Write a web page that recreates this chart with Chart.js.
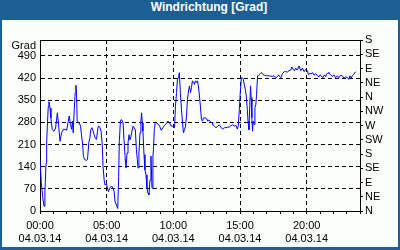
<!DOCTYPE html>
<html>
<head>
<meta charset="utf-8">
<script src="https://cdn.jsdelivr.net/npm/chart.js@4/dist/chart.umd.min.js"></script>
<style>
  html, body { margin: 0; padding: 0; }
  #frame { position: relative; width: 400px; height: 250px; background: #1e5f93; overflow: hidden; }
  #title { position: absolute; left: 0; top: 0; width: 400px; height: 20px; line-height: 20px;
           text-align: center; color: #fff; font: bold 12px "Liberation Sans", Arial, sans-serif; padding-left: 18px; box-sizing: border-box; }
  #inner { position: absolute; left: 2px; top: 20px; width: 396px; height: 227px; background: #fcfefc; }
  #c { position: absolute; left: 0; top: 0; }
</style>
</head>
<body>
<div id="frame">
  <div id="title">Windrichtung [Grad]</div>
  <div id="inner"></div>
  <canvas id="c" width="400" height="250"></canvas>
</div>
<script>
'use strict';

const hours = [
  0.00, 0.10, 0.20, 0.30, 0.37, 0.45, 0.50, 0.55, 0.62, 0.67, 0.75, 0.82, 0.92, 1.05, 1.17, 1.30, 1.37, 1.50, 1.62, 1.75,
  1.87, 2.00, 2.12, 2.19, 2.29, 2.37, 2.44, 2.49, 2.57, 2.64, 2.69, 2.74, 2.79, 2.94, 3.04, 3.11, 3.19, 3.26, 3.36, 3.49,
  3.56, 3.66, 3.74, 3.81, 3.89, 3.99, 4.06, 4.14, 4.24, 4.31, 4.38, 4.48, 4.58, 4.66, 4.73, 4.81, 4.88, 4.98, 5.06, 5.13,
  5.23, 5.36, 5.48, 5.56, 5.63, 5.73, 5.83, 5.90, 5.95, 6.03, 6.10, 6.18, 6.23, 6.30, 6.38, 6.45, 6.53, 6.60, 6.68, 6.75,
  6.83, 6.90, 6.98, 7.05, 7.15, 7.23, 7.30, 7.35, 7.42, 7.50, 7.57, 7.62, 7.67, 7.72, 7.80, 7.87, 7.95, 8.02, 8.10, 8.17,
  8.25, 8.32, 8.40, 8.47, 8.52, 8.57, 8.65, 8.72, 8.84, 8.97, 9.09, 9.22, 9.34, 9.47, 9.59, 9.72, 9.84, 9.97, 10.09, 10.16,
  10.24, 10.31, 10.39, 10.45, 10.53, 10.61, 10.69, 10.76, 10.84, 10.91, 10.99, 11.06, 11.14, 11.21, 11.29, 11.36, 11.43, 11.51, 11.58, 11.66,
  11.73, 11.81, 11.88, 11.96, 12.03, 12.11, 12.18, 12.26, 12.41, 12.51, 12.58, 12.66, 12.76, 12.83, 12.90, 12.95, 13.08, 13.20, 13.33, 13.45,
  13.58, 13.70, 13.83, 13.95, 14.08, 14.20, 14.33, 14.45, 14.57, 14.70, 14.80, 14.87, 14.95, 15.02, 15.10, 15.17, 15.25, 15.32, 15.40, 15.47,
  15.55, 15.60, 15.67, 15.74, 15.79, 15.84, 15.89, 15.94, 15.99, 16.07, 16.12, 16.19, 16.24, 16.32, 16.39, 16.47, 16.54, 16.62, 16.69, 16.82,
  16.94, 17.07, 17.19, 17.31, 17.44, 17.56, 17.69, 17.81, 17.89, 17.99, 18.06, 18.19, 18.31, 18.44, 18.56, 18.68, 18.81, 18.88, 18.98, 19.08,
  19.18, 19.26, 19.33, 19.43, 19.56, 19.68, 19.81, 19.93, 20.06, 20.13, 20.23, 20.33, 20.43, 20.55, 20.68, 20.80, 20.93, 21.00, 21.13, 21.23,
  21.33, 21.43, 21.50, 21.60, 21.67, 21.80, 21.92, 22.05, 22.17, 22.30, 22.42, 22.55, 22.67, 22.80, 22.92, 23.04, 23.17, 23.24, 23.34, 23.42,
  23.54, 23.67
];
const degrees = [
  160, 90, 45, 15, 60, 150, 215, 268, 330, 345, 325, 294, 257, 252, 262, 310, 284, 220, 247, 258,
  258, 255, 284, 300, 273, 258, 284, 247, 321, 374, 397, 374, 284, 278, 268, 241, 215, 172, 162, 160,
  162, 215, 231, 257, 263, 252, 241, 231, 226, 252, 268, 265, 252, 215, 141, 98, 82, 86, 72, 61,
  72, 79, 72, 61, 30, 19, 8, 109, 220, 284, 289, 284, 278, 225, 173, 136, 183, 215, 241, 225,
  236, 252, 268, 263, 257, 194, 162, 136, 183, 247, 284, 310, 278, 252, 178, 130, 114, 72, 56, 51,
  98, 173, 72, 173, 199, 257, 281, 278, 275, 268, 255, 263, 270, 276, 284, 278, 268, 268, 263, 331,
  374, 416, 421, 437, 370, 321, 278, 247, 257, 268, 300, 353, 379, 395, 374, 390, 411, 406, 400, 411,
  406, 411, 395, 363, 331, 289, 284, 294, 294, 291, 284, 287, 284, 278, 281, 273, 268, 263, 268, 272,
  263, 259, 263, 263, 265, 265, 270, 272, 268, 270, 259, 268, 321, 374, 421, 421, 416, 400, 384, 363,
  321, 284, 257, 342, 395, 358, 294, 252, 284, 273, 326, 337, 368, 427, 427, 432, 435, 437, 432, 429,
  427, 427, 427, 426, 425, 427, 421, 424, 430, 424, 421, 434, 440, 440, 439, 443, 445, 455, 448, 443,
  451, 445, 448, 458, 443, 451, 440, 448, 443, 430, 435, 432, 437, 429, 434, 427, 424, 430, 425, 421,
  430, 424, 432, 437, 435, 430, 425, 430, 421, 427, 421, 429, 427, 419, 424, 421, 416, 427, 419, 427,
  432, 440
];

const dateLabel = '04.03.14';
const xLabelHours = [0, 5, 10, 15, 20];
const yTicks = [0, 70, 140, 210, 280, 350, 420, 490];
const compassDeg = [0, 45, 90, 135, 180, 225, 270, 315, 360, 405, 450, 495, 540];
const compassLabels = ['N', 'NE', 'E', 'SE', 'S', 'SW', 'W', 'NW', 'N', 'NE', 'E', 'SE', 'S'];

const FONT = { family: '"Liberation Sans", Arial, sans-serif', size: 11 };
const DASH = [4, 3];

const hh = h => String(h).padStart(2, '0') + ':00';

// top border of plot + "Grad" unit label
const framePlugin = {
  id: 'framePlugin',
  afterDraw(chart) {
    const { ctx, chartArea: a } = chart;
    ctx.save();
    ctx.strokeStyle = '#000';
    ctx.lineWidth = 1;
    ctx.beginPath();
    ctx.moveTo(a.left, a.top + 0.5);
    ctx.lineTo(a.right, a.top + 0.5);
    ctx.stroke();
    ctx.fillStyle = '#000';
    ctx.font = '11px "Liberation Sans", Arial, sans-serif';
    ctx.textAlign = 'right';
    ctx.textBaseline = 'middle';
    ctx.fillText('Grad', 36, 46);
    ctx.restore();
  }
};

new Chart(document.getElementById('c'), {
  type: 'line',
  data: {
    datasets: [{
      data: hours.map((h, i) => ({ x: h, y: degrees[i] })),
      borderColor: '#0000ff',
      borderWidth: 1,
      pointRadius: 0,
      tension: 0,
      fill: false
    }]
  },
  options: {
    responsive: false,
    animation: false,
    layout: { padding: { top: 40 } },
    plugins: { legend: { display: false }, tooltip: { enabled: false } },
    scales: {
      x: {
        type: 'linear', min: 0, max: 24,
        afterFit: s => { s.height = 39; },
        ticks: {
          stepSize: 1, autoSkip: false, maxRotation: 0, padding: 5,
          color: '#000', font: { ...FONT, lineHeight: '13.5px' },
          callback: v => xLabelHours.includes(v) ? [hh(v), dateLabel] : ''
        },
        grid: {
          color: c => (c.tick && xLabelHours.includes(c.tick.value) && c.tick.value > 0) ? '#000' : 'rgba(0,0,0,0)',
          tickColor: '#000', tickLength: 3, lineWidth: 1
        },
        border: { color: '#000', dash: DASH }
      },
      y: {
        position: 'left', min: 0, max: 540,
        afterFit: s => { s.width = 40; },
        afterBuildTicks: s => { s.ticks = yTicks.map(v => ({ value: v })); },
        ticks: { padding: 4, autoSkip: false, color: '#000', font: FONT },
        grid: {
          drawTicks: false,
          color: c => (c.tick && c.tick.value > 0) ? '#000' : 'rgba(0,0,0,0)'
        },
        border: { color: '#000', dash: DASH }
      },
      y2: {
        position: 'right', min: 0, max: 540,
        afterFit: s => { s.width = 40; },
        afterBuildTicks: s => { s.ticks = compassDeg.map(v => ({ value: v })); },
        ticks: {
          padding: 2, autoSkip: false, color: '#000', font: FONT,
          callback: (v, i) => compassLabels[i]
        },
        grid: { drawOnChartArea: false, tickColor: '#000', tickLength: 3 },
        border: { color: '#000' }
      }
    }
  },
  plugins: [framePlugin]
});
</script>
</body>
</html>
